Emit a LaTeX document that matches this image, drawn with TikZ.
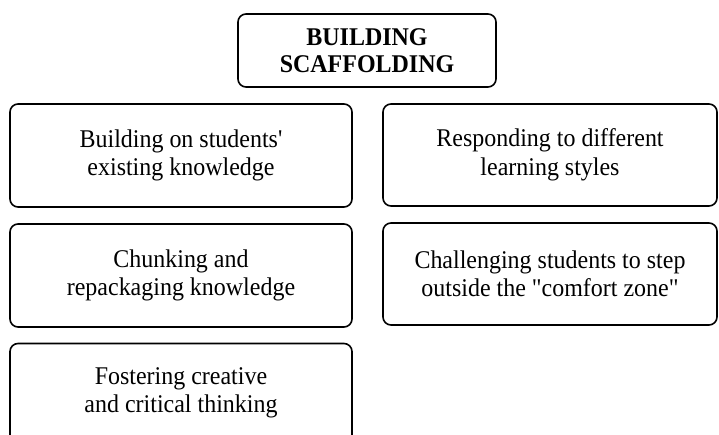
\documentclass[tikz,border=0pt]{standalone}
\usepackage{fontspec}
\setmainfont{Liberation Serif}[Ligatures=TeXOff, FakeStretch=0.94]
\begin{document}
\begin{tikzpicture}[x=1pt,y=-1pt,
  card/.style={draw=black, line width=1.6pt, rounded corners=8pt,
    align=center, inner sep=0pt,
    font=\fontsize{25.5}{28.5}\selectfont},
  leftcard/.style={card, minimum width=342pt, minimum height=103pt},
  rightcard/.style={card, minimum width=334pt, minimum height=102pt},
  titlecard/.style={card, minimum width=258pt, minimum height=73pt,
    font=\fontsize{25.5}{27}\selectfont\bfseries}]
  \useasboundingbox (0,0) rectangle (719,435);

  \node[titlecard] (title) at (367,50.5) {BUILDING\\SCAFFOLDING};

  \node[leftcard]  (prior)    at (181,155.5) {Building on students'\\existing knowledge};
  \node[rightcard] (styles)   at (550,155)   {Responding to different\\learning styles};
  \node[leftcard]  (chunk)    at (181,275.5) {Chunking and\\repackaging knowledge};
  \node[rightcard] (comfort)  at (550,274)   {Challenging students to step\\outside the "comfort zone"};
  \node[leftcard, minimum height=99pt] (thinking) at (181,393)
    {Fostering creative\\and critical thinking};
\end{tikzpicture}
\end{document}
